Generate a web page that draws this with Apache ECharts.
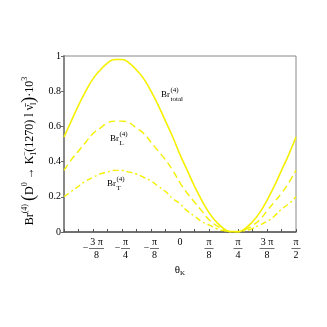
<!DOCTYPE html>
<html>
<head lang="en">
	<meta charset="UTF-8">
	<title></title>
	<script type="text/javascript" src="https://cdn.jsdelivr.net/npm/echarts@6/dist/echarts.min.js"></script>
	<style>
		html, body {margin: 0; padding: 0; background: #fff;}
		#main {width: 327px; height: 327px;}
	</style>
</head>
<body>
<div id="main"></div>
<script>
// theta_K in steps of pi/16, -pi/2 .. pi/2 (read every half step)
var thetaK = [-8, -7.5, -7, -6.5, -6, -5.5, -5, -4.5, -4, -3.5, -3, -2.5, -2, -1.5, -1, -0.5, 0,
	0.5, 1, 1.5, 2, 2.5, 3, 3.5, 4, 4.5, 5, 5.5, 6, 6.5, 7, 7.5, 8];
var brTotal = [0.54, 0.63, 0.72, 0.80, 0.87, 0.92, 0.96, 0.98, 0.98, 0.96, 0.92, 0.87, 0.80, 0.72, 0.63, 0.54, 0.44,
	0.35, 0.26, 0.18, 0.11, 0.058, 0.021, 0.002, 0.002, 0.021, 0.058, 0.11, 0.18, 0.26, 0.35, 0.44, 0.54];
var brL = [0.35, 0.41, 0.46, 0.51, 0.56, 0.59, 0.62, 0.63, 0.63, 0.62, 0.59, 0.56, 0.51, 0.46, 0.41, 0.35, 0.28,
	0.22, 0.17, 0.12, 0.07, 0.037, 0.014, 0.002, 0.002, 0.014, 0.037, 0.07, 0.12, 0.17, 0.22, 0.28, 0.35];
var brT = [0.20, 0.23, 0.26, 0.29, 0.31, 0.33, 0.34, 0.35, 0.35, 0.34, 0.33, 0.31, 0.29, 0.26, 0.23, 0.19, 0.16,
	0.12, 0.09, 0.06, 0.04, 0.02, 0.008, 0.001, 0.001, 0.008, 0.02, 0.04, 0.06, 0.09, 0.13, 0.16, 0.20];

// x tick labels (fractions of pi)
var xLabelPos = [-6, -4, -2, 0, 2, 4, 6, 8];
var xLabelNum = ['3 π', 'π', 'π', '0', 'π', 'π', '3 π', 'π'];
var xLabelDen = ['8', '4', '8', '', '8', '4', '8', '2'];

var serif = '"Liberation Serif", "DejaVu Serif", serif';
var lineColor = '#f5f000';
var ctx = document.createElement('canvas').getContext('2d');
function textW(t, size) {
	ctx.font = size + 'px ' + serif;
	return ctx.measureText(t).width;
}

function pairs(ys) {
	var res = [];
	for (var i = 0; i < thetaK.length; i++) {
		res.push([thetaK[i], ys[i]]);
	}
	return res;
}

function xLabel(value) {
	var i = xLabelPos.indexOf(Math.round(value));
	if (i < 0) return '';
	if (xLabelDen[i] === '') return '{z|' + xLabelNum[i] + '}';
	var k = xLabelNum[i].length > 1 ? '3' : '1';
	if (xLabelPos[i] < 0) {
		return '{sp| }{num' + k + '|' + xLabelNum[i] + '}\n{mi|−}{bar' + k + '| }\n{sp| }{num' + k + '|' + xLabelDen[i] + '}';
	}
	return '{num' + k + '|' + xLabelNum[i] + '}\n{bar' + k + '| }\n{num' + k + '|' + xLabelDen[i] + '}';
}

// curve label "Br^(4)_sub"
function brLabel(x, y, sub) {
	var w = textW('Br', 9);
	return {
		type: 'group',
		children: [
			{type: 'text', x: x, y: y, style: {text: 'Br', font: '9px ' + serif, fill: '#000', verticalAlign: 'middle'}},
			{type: 'text', x: x + w + 0.5, y: y - 4.5, style: {text: '(4)', font: '7px ' + serif, fill: '#000', verticalAlign: 'middle'}},
			{type: 'text', x: x + w + 0.5, y: y + 4, style: {text: sub, font: '7px ' + serif, fill: '#000', verticalAlign: 'middle'}}
		]
	};
}

// rotated y axis title
function yTitle(cx, cy) {
	var pieces = [
		['Br', 'n'], ['(4)', 'sup'], [' ', 'n'], ['(', 'big'], ['D', 'n'], ['0', 'sup'], [' → ', 'n'],
		['K', 'n'], ['−', 'supk'], ['1', 'sub'], ['(1270) ', 'n'], ['l', 'n'], [' ν̄', 'n'], ['l', 'sub'],
		[')', 'big'], ['·10', 'n'], ['3', 'sup']
	];
	var size = {n: 12, sup: 8, supk: 8, sub: 8, big: 18};
	var dy = {n: 0, sup: -5, supk: -5, sub: 3.5, big: -1};
	var total = 0;
	var ws = [];
	for (var i = 0; i < pieces.length; i++) {
		var w = textW(pieces[i][0], size[pieces[i][1]]);
		ws.push(w);
		if (pieces[i][1] !== 'supk') total += w;
	}
	var x = -total / 2;
	var children = [];
	for (var j = 0; j < pieces.length; j++) {
		var kind = pieces[j][1];
		children.push({
			type: 'text', x: x, y: dy[kind],
			style: {text: pieces[j][0], font: size[kind] + 'px ' + serif, fill: '#000', verticalAlign: 'middle'}
		});
		if (kind !== 'supk') x += ws[j];
	}
	return {type: 'group', x: cx, y: cy, rotation: Math.PI / 2, children: children};
}

var myChart = echarts.init(document.getElementById('main'));
var option = {
	animation: false,
	grid: {
		left: 64, right: 31, top: 56, bottom: 95,
		show: true, borderColor: '#888', borderWidth: 1
	},
	xAxis: {
		type: 'value', min: -8, max: 8, interval: 1,
		axisLine: {onZero: false, lineStyle: {color: '#555', width: 1.5}},
		axisTick: {inside: true, length: 3, lineStyle: {color: '#555'}},
		splitLine: {show: false},
		axisLabel: {
			margin: 5,
			color: '#000',
			formatter: xLabel,
			rich: {
				z: {fontFamily: serif, fontSize: 10, lineHeight: 10, color: '#000'},
				sp: {width: 7, fontSize: 10},
				mi: {width: 7, align: 'center', fontFamily: serif, fontSize: 10, lineHeight: 3, color: '#000'},
				num1: {width: 9, align: 'center', fontFamily: serif, fontSize: 10, lineHeight: 10, color: '#000'},
				num3: {width: 15, align: 'center', fontFamily: serif, fontSize: 10, lineHeight: 10, color: '#000'},
				bar1: {width: 9, height: 0.7, fontSize: 1, lineHeight: 3, backgroundColor: '#333'},
				bar3: {width: 15, height: 0.7, fontSize: 1, lineHeight: 3, backgroundColor: '#333'}
			}
		},
		name: '{t|θ}{k|K}',
		nameLocation: 'middle',
		nameGap: 27,
		nameTextStyle: {
			rich: {
				t: {fontFamily: serif, fontSize: 11, color: '#000'},
				k: {fontFamily: serif, fontSize: 7, color: '#000', padding: [6, 0, 0, 0]}
			}
		}
	},
	yAxis: {
		type: 'value', min: 0, max: 1, interval: 0.2,
		axisLine: {show: true, onZero: false, lineStyle: {color: '#888', width: 2}},
		axisTick: {show: true, length: 3, lineStyle: {color: '#666'}},
		splitLine: {show: false},
		axisLabel: {margin: 3, fontFamily: serif, fontSize: 10, color: '#000'}
	},
	graphic: [
		brLabel(161, 95, 'total'),
		brLabel(110, 139, 'L'),
		brLabel(107, 184, 'T'),
		yTitle(30, 151)
	],
	series: [
		{
			name: 'total', type: 'line', data: pairs(brTotal), smooth: true, symbol: 'none',
			lineStyle: {color: lineColor, width: 1.6}
		},
		{
			name: 'L', type: 'line', data: pairs(brL), smooth: true, symbol: 'none',
			lineStyle: {color: lineColor, width: 1.4, type: [7, 4]}
		},
		{
			name: 'T', type: 'line', data: pairs(brT), smooth: true, symbol: 'none',
			lineStyle: {color: lineColor, width: 1.4, type: [6, 3, 2, 3]}
		}
	]
};
myChart.setOption(option);
</script>
</body>
</html>
